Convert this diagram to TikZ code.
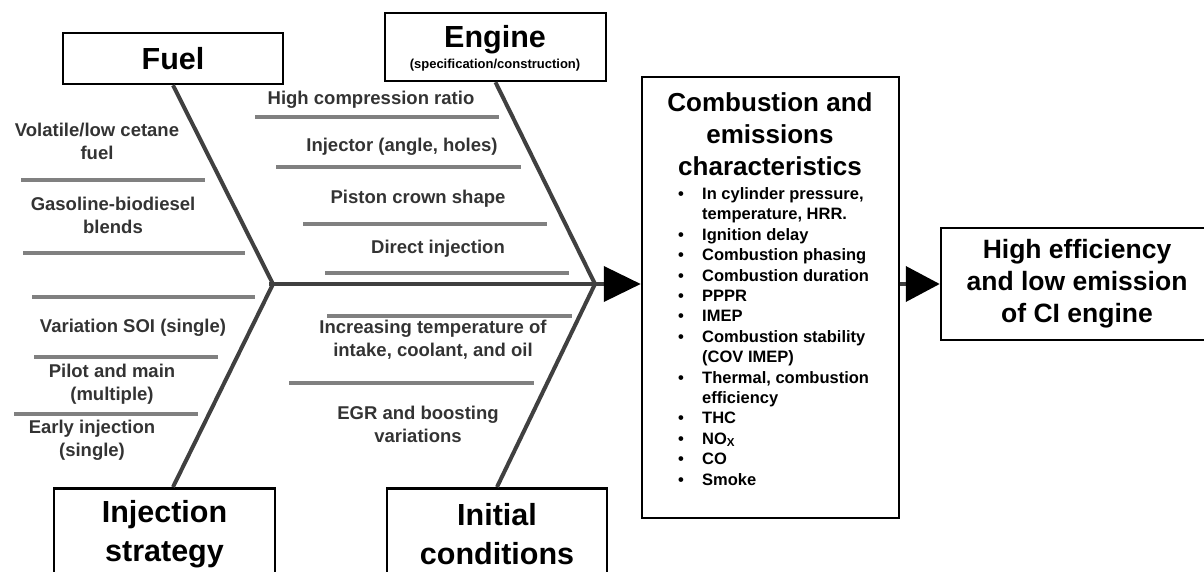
\documentclass[tikz,border=0pt]{standalone}
\usepackage{fontspec}
\setmainfont{Liberation Sans}
\usetikzlibrary{arrows.meta}
\definecolor{bonec}{HTML}{404040}
\definecolor{ribc}{HTML}{808080}
\definecolor{txtc}{HTML}{333333}
\begin{document}
\begin{tikzpicture}[x=1pt,y=-1pt,
  box/.style={draw=black, line width=2.5pt, fill=white, inner sep=0pt, align=center},
  bone/.style={draw=bonec, line width=4pt, line join=round},
  rib/.style={draw=ribc, line width=4pt},
  lbl/.style={text=txtc, font=\bfseries\fontsize{18.5}{23}\selectfont, align=center, inner sep=0pt},
  bigt/.style={font=\bfseries\fontsize{30.5}{39}\selectfont},
  midt/.style={font=\bfseries\fontsize{26.5}{32}\selectfont},
]
\useasboundingbox (0,0) rectangle (1204,572);
\clip (0,0) rectangle (1204,572);

% ribs
\draw[rib] (21,180) -- (205,180);
\draw[rib] (23,253) -- (245,253);
\draw[rib] (32,297) -- (255,297);
\draw[rib] (34,357) -- (218,357);
\draw[rib] (14,414) -- (198,414);
\draw[rib] (255,117) -- (499,117);
\draw[rib] (276,167) -- (521,167);
\draw[rib] (303,224) -- (547,224);
\draw[rib] (325,273) -- (569,273);
\draw[rib] (327,316) -- (572,316);
\draw[rib] (289,383) -- (534,383);

% rib labels
\node[lbl] (l1) at (97,141) {Volatile/low cetane\\fuel};
\node[lbl] (l2) at (113,215) {Gasoline-biodiesel\\blends};
\node[lbl] (l3) at (133,328) {Variation SOI (single)};
\node[lbl] (l4) at (112,384) {Pilot and main\\(multiple)};
\node[lbl] (l5) at (92,440) {Early injection\\(single)};
\node[lbl] (l6) at (371,100) {High compression ratio};
\node[lbl] (l7) at (402,147) {Injector (angle, holes)};
\node[lbl] (l8) at (418,199) {Piston crown shape};
\node[lbl] (l9) at (438,249) {Direct injection};
\node[lbl] (l10) at (433,340) {Increasing temperature of\\intake, coolant, and oil};
\node[lbl] (l11) at (418,424) {EGR and boosting\\variations};

% boxes
\node[box, bigt, minimum width=220pt, minimum height=51pt] (fuel) at (173,58.5) {Fuel};
\node[box, minimum width=221pt, minimum height=68pt] (engine) at (495.5,47) {};
\node[bigt, inner sep=0pt] (engt) at (495,40) {Engine};
\node[font=\bfseries\fontsize{13}{15}\selectfont, inner sep=0pt] (engs) at (495,65) {(specification/construction)};
\node[box, bigt, minimum width=221pt, minimum height=92pt, anchor=north] (inj) at (164.5,487) {Injection\\strategy};
\node[box, bigt, minimum width=220pt, minimum height=92pt, anchor=north] (init) at (497,487) {Initial\\conditions};
\node[box, minimum width=257pt, minimum height=441pt] (comb) at (770.5,297.5) {};
\node[box, midt, minimum width=272pt, minimum height=112pt] (high) at (1077,284) {High efficiency\\and low emission\\of CI engine};

\node[font=\bfseries\fontsize{26}{32}\selectfont, align=center, inner sep=0pt] (combt) at (770,134) {Combustion and\\emissions\\characteristics};
\node[anchor=north west, inner sep=0pt, font=\bfseries\fontsize{16.5}{20.4}\selectfont] (combl) at (678,185) {%
\begin{tabular}{@{}p{24pt}@{}l@{}}
• & In cylinder pressure,\\
  & temperature, HRR.\\
• & Ignition delay\\
• & Combustion phasing\\
• & Combustion duration\\
• & PPPR\\
• & IMEP\\
• & Combustion stability\\
  & (COV IMEP)\\
• & Thermal, combustion\\
  & efficiency\\
• & THC\\
• & NO\textsubscript{X}\\
• & CO\\
• & Smoke
\end{tabular}};

% bones
\coordinate (jl) at (273,284);
\coordinate (jr) at (595,284);
\coordinate (ib) at (173,487);
\coordinate (sp) at (269,284);
\draw[bone] (fuel.south) -- (jl) -- (ib);
\draw[bone] (engine.south) -- (jr) -- (init.north);
\draw[bone, -{Triangle[length=37pt,width=35pt,color=black]}] (sp) -- (sp -| comb.west);
\draw[bone, -{Triangle[length=34pt,width=35pt,color=black]}] (high.west -| comb.east) -- (high.west);
\end{tikzpicture}
\end{document}
